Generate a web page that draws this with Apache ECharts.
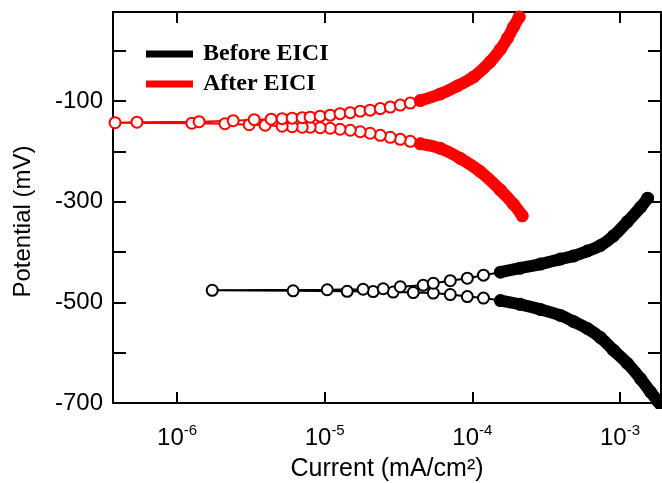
<!DOCTYPE html>
<html>
<head>
<meta charset="utf-8">
<script src="https://cdn.jsdelivr.net/npm/echarts@6/dist/echarts.min.js"></script>
<style>
html, body { margin: 0; padding: 0; background: #fff; }
#chart { width: 662px; height: 483px; }
</style>
</head>
<body>
<div id="chart"></div>
<script>
// [current (mA/cm2), potential (mV)], from corrosion potential outward
const beforeCathodic = [
    [1.73e-6, -476], [6.11e-6, -477], [1.42e-5, -478], [2.13e-5, -478.5], [2.91e-5, -479.5],
    [3.98e-5, -480.5], [5.44e-5, -481.5], [7.09e-5, -484.5], [9.25e-5, -488.5], [1.19e-4, -491.5],
    [1.55e-4, -496.5], [2.11e-4, -504], [2.89e-4, -514], [3.95e-4, -526], [4.84e-4, -538],
    [6.02e-4, -552], [7.38e-4, -570], [9.03e-4, -595], [1.12e-3, -621], [1.38e-3, -652],
    [1.61e-3, -678], [1.80e-3, -696], [2.03e-3, -718]
];
const beforeAnodic = [
    [1.04e-5, -475], [1.82e-5, -474], [2.49e-5, -473], [3.25e-5, -469], [4.65e-5, -466],
    [5.44e-5, -462], [7.09e-5, -457], [9.25e-5, -452], [1.19e-4, -446], [1.55e-4, -440],
    [2.11e-4, -432], [2.89e-4, -424], [3.95e-4, -414], [4.84e-4, -408], [6.02e-4, -398],
    [7.38e-4, -387], [9.03e-4, -368], [1.12e-3, -340], [1.38e-3, -311], [1.54e-3, -293]
];
const afterCathodic = [
    [3.80e-7, -143], [1.26e-6, -144], [2.11e-6, -145], [3.08e-6, -147], [3.95e-6, -148],
    [5.15e-6, -150], [6.02e-6, -151], [7.04e-6, -152], [7.97e-6, -152], [9.32e-6, -153],
    [1.09e-5, -154], [1.27e-5, -156], [1.49e-5, -158], [1.74e-5, -161], [2.03e-5, -164],
    [2.38e-5, -168], [2.78e-5, -172], [3.25e-5, -176], [3.80e-5, -180], [4.44e-5, -185],
    [6.07e-5, -194], [8.29e-5, -214], [1.13e-4, -240], [1.55e-4, -277], [1.90e-4, -305],
    [2.18e-4, -328]
];
const afterAnodic = [
    [5.35e-7, -142], [1.41e-6, -141], [2.40e-6, -139], [3.33e-6, -137], [4.34e-6, -136],
    [5.15e-6, -135], [6.02e-6, -134], [7.04e-6, -133], [7.97e-6, -132], [9.32e-6, -130],
    [1.09e-5, -128], [1.27e-5, -125], [1.49e-5, -123], [1.74e-5, -120], [2.03e-5, -118],
    [2.38e-5, -115], [2.78e-5, -112], [3.25e-5, -108], [3.80e-5, -104], [4.44e-5, -99],
    [6.07e-5, -86], [7.91e-5, -70], [1.02e-4, -52], [1.32e-4, -22], [1.55e-4, 3],
    [1.73e-4, 25], [1.90e-4, 47], [2.08e-4, 67]
];

const seriesNames = ['Before EICI', 'After EICI'];
const seriesColors = ['#000000', '#ff0000'];
// above these currents the markers merge into a solid band
const bandFrom = [1.5e-4, 4.4e-5];

const xTickExponents = [-6, -5, -4, -3];
const yTickValues = [-700, -600, -500, -400, -300, -200, -100, 0];
const yLabelValues = [-700, -500, -300, -100];

const toLog = pts => pts.map(p => [Math.log10(p[0]), p[1]]);

const branches = [[beforeCathodic, beforeAnodic], [afterCathodic, afterAnodic]];
const series = [];
branches.forEach((b, i) => {
    series.push({
        name: seriesNames[i],
        type: 'line',
        data: toLog(b[0].slice().reverse().concat(b[1])),
        symbol: 'emptyCircle',
        symbolSize: 11,
        color: seriesColors[i],
        itemStyle: { color: seriesColors[i], borderWidth: 1.5 },
        lineStyle: { color: seriesColors[i], width: 2 },
        z: 3
    });
    b.forEach(part => {
        series.push({
            name: seriesNames[i] + ' band',
            type: 'line',
            data: toLog(part.filter(p => p[0] >= bandFrom[i])),
            symbol: 'none',
            smooth: 0.4,
            silent: true,
            lineStyle: { color: seriesColors[i], width: 12, cap: 'round', join: 'round' },
            z: 4
        });
    });
});

const font = 'Liberation Sans, Arial, sans-serif';
const axisLine = { show: true, onZero: false, lineStyle: { color: '#000', width: 2 } };

const chart = echarts.init(document.getElementById('chart'));
chart.setOption({
    animation: false,
    backgroundColor: '#fff',
    grid: { left: 113, right: 1, top: 12, bottom: 80, containLabel: false, outerBoundsMode: 'none' },
    legend: {
        data: seriesNames.map(n => ({ name: n, icon: 'rect' })),
        orient: 'vertical',
        left: 146,
        top: 42,
        padding: 0,
        itemWidth: 47,
        itemHeight: 7,
        itemGap: 6,
        textStyle: {
            fontFamily: 'Liberation Serif, Times New Roman, serif',
            fontWeight: 'bold',
            fontSize: 24,
            lineHeight: 21,
            color: '#000',
            padding: [0, 0, 0, 5]
        }
    },
    xAxis: [{
        type: 'value',
        min: -6.434,
        max: -2.722,
        position: 'bottom',
        name: 'Current (mA/cm²)',
        nameLocation: 'middle',
        nameGap: 54,
        nameTextStyle: { fontFamily: font, fontSize: 25, color: '#000' },
        axisLine: axisLine,
        splitLine: { show: false },
        axisTick: { inside: true, length: 11, lineStyle: { color: '#000', width: 2 }, customValues: xTickExponents },
        axisLabel: {
            customValues: xTickExponents,
            margin: 20,
            formatter: v => '{b|10}{s|' + v + '}',
            rich: {
                b: { fontFamily: font, fontSize: 24, color: '#000' },
                s: { fontFamily: font, fontSize: 15, color: '#000', padding: [0, 0, 16, 0] }
            }
        }
    }, {
        type: 'value',
        min: -6.434,
        max: -2.722,
        position: 'top',
        axisLine: axisLine,
        splitLine: { show: false },
        axisTick: { inside: true, length: 11, lineStyle: { color: '#000', width: 2 }, customValues: xTickExponents },
        axisLabel: { show: false }
    }],
    yAxis: [{
        type: 'value',
        min: -700,
        max: 77,
        position: 'left',
        name: 'Potential (mV)',
        nameLocation: 'middle',
        nameGap: 78,
        nameTextStyle: { fontFamily: font, fontSize: 24, color: '#000', padding: [0, 28, 0, 0] },
        axisLine: axisLine,
        splitLine: { show: false },
        axisTick: { inside: true, length: 13, lineStyle: { color: '#000', width: 2 }, customValues: yTickValues },
        axisLabel: { customValues: yLabelValues, margin: 10, fontFamily: font, fontSize: 24, color: '#000' }
    }, {
        type: 'value',
        min: -700,
        max: 77,
        position: 'right',
        axisLine: axisLine,
        splitLine: { show: false },
        axisTick: { inside: true, length: 13, lineStyle: { color: '#000', width: 2 }, customValues: yTickValues },
        axisLabel: { show: false }
    }],
    series: series
});
</script>
</body>
</html>
